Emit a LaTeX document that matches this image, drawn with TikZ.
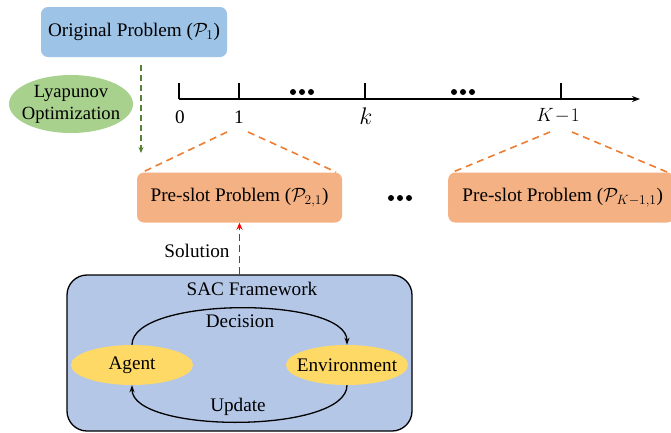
\RequirePackage{fix-cm}
\documentclass[tikz,border=0pt]{standalone}
\usepackage[no-math]{fontspec}
\setmainfont{Liberation Serif}
\usetikzlibrary{shapes.geometric,arrows.meta}
\definecolor{boxblue}{HTML}{9DC3E6}
\definecolor{lyagreen}{HTML}{A9D18E}
\definecolor{preorange}{HTML}{F4B183}
\definecolor{sacblue}{HTML}{B4C7E7}
\definecolor{agentyellow}{HTML}{FFD966}
\definecolor{arrgreen}{HTML}{548235}
\definecolor{dashorange}{HTML}{ED7D31}
\tikzset{
  probbox/.style={rectangle, rounded corners=7pt, inner sep=0pt, minimum height=50pt},
  ellnode/.style={ellipse, inner xsep=-12pt, inner ysep=-6pt, align=center},
  axisline/.style={line width=1.4pt},
  tickline/.style={line width=1.3pt},
  orangedash/.style={dashorange, dash pattern=on 7pt off 5pt, line width=1.6pt},
  loopline/.style={line width=1.3pt, -{Stealth[length=7pt,width=5pt]}},
  dotnode/.style={circle, fill=black, inner sep=0pt, minimum size=6pt},
}
\begin{document}
\begin{tikzpicture}[x=1pt,y=-1pt,font=\fontsize{19.2}{22.5}\selectfont]
\useasboundingbox (0,0) rectangle (671,432);

% original problem
\node[probbox, fill=boxblue, minimum width=186pt] (orig) at (134,32) {Original Problem ($\mathcal{P}_1$)};
% Lyapunov
\node[ellnode, fill=lyagreen, minimum width=124pt, minimum height=58pt, font=\fontsize{18.6}{22}\selectfont] (lya) at (71,104) {Lyapunov\\Optimization};
% green dashed arrow
\coordinate (g1) at (141,65);
\coordinate (g2) at (141,153);
\draw[arrgreen, dash pattern=on 6pt off 4pt, line width=1.5pt, -{Stealth[length=6pt,width=5pt]}] (g1) -- (g2);

% time axis
\coordinate (ax0) at (179,99);
\coordinate (axend) at (640,99);
\draw[axisline, -{Stealth[length=8pt,width=6pt]}] (ax0) -- (axend);
\coordinate (t0) at (179,99);
\coordinate (t1) at (239,99);
\coordinate (tk) at (365,99);
\coordinate (tK) at (561,99);
\foreach \t in {t0,t1,tk,tK} \draw[tickline] (\t) -- ++(0,-16);
\node (l0) at (180,117) {0};
\node (l1) at (239,117) {1};
\node[font=\fontsize{24}{26}\selectfont] (lk) at (366,116) {$k$};
\node (lK) at (558,116) {$K\!-\!1$};
% dots on axis
\foreach \x [count=\i] in {293,302,311} \node[dotnode] (da\i) at (\x,92) {};
\foreach \x [count=\i] in {454,463,472} \node[dotnode] (db\i) at (\x,92) {};

% pre-slot boxes
\node[probbox, fill=preorange, minimum width=205pt] (pre1) at (239.5,197.5) {Pre-slot Problem ($\mathcal{P}_{2,1}$)};
\node[probbox, fill=preorange, minimum width=226pt, anchor=west] (preK) at (448,197.5) {\hspace{3pt}Pre-slot Problem ($\mathcal{P}_{K-1,1}$)};
\foreach \x [count=\i] in {391,400,409} \node[dotnode] (dc\i) at (\x,198) {};

% orange zoom lines
\coordinate (o1a) at (227,132);
\coordinate (o1b) at (248,132);
\coordinate (o1c) at (143,172);
\coordinate (o1d) at (336,172);
\draw[orangedash] (o1a) -- (o1c);
\draw[orangedash] (o1b) -- (o1d);
\coordinate (oKa) at (550,132);
\coordinate (oKb) at (572,132);
\coordinate (oKc) at (453,172);
\coordinate (oKd) at (667,172);
\draw[orangedash] (oKa) -- (oKc);
\draw[orangedash] (oKb) -- (oKd);

% SAC framework
\node[draw=black, line width=1.3pt, fill=sacblue, rounded corners=20pt, minimum width=345pt, minimum height=156pt, inner sep=0pt] (sac) at (239.5,353) {};
\node (sactitle) at (252,289) {SAC Framework};
\node[ellnode, fill=agentyellow, minimum width=122pt, minimum height=40pt] (agent) at (132,365) {Agent};
\node[ellnode, fill=agentyellow, minimum width=122pt, minimum height=40pt] (env) at (347,365) {Environment};
\draw[loopline] (agent.north) .. controls (132,296) and (347,296) .. (env.north);
\draw[loopline] (env.south) .. controls (347,434) and (132,434) .. (agent.south);
\node (dec) at (240,321) {Decision};
\node (upd) at (238,407) {Update};

% solution arrow
\draw[red, dash pattern=on 7pt off 4pt, line width=1.9pt, -{Stealth[length=7pt,width=6pt]}] (sac.north -| pre1.south) -- (pre1.south);
\node (sol) at (197,251) {Solution};
\end{tikzpicture}
\end{document}
